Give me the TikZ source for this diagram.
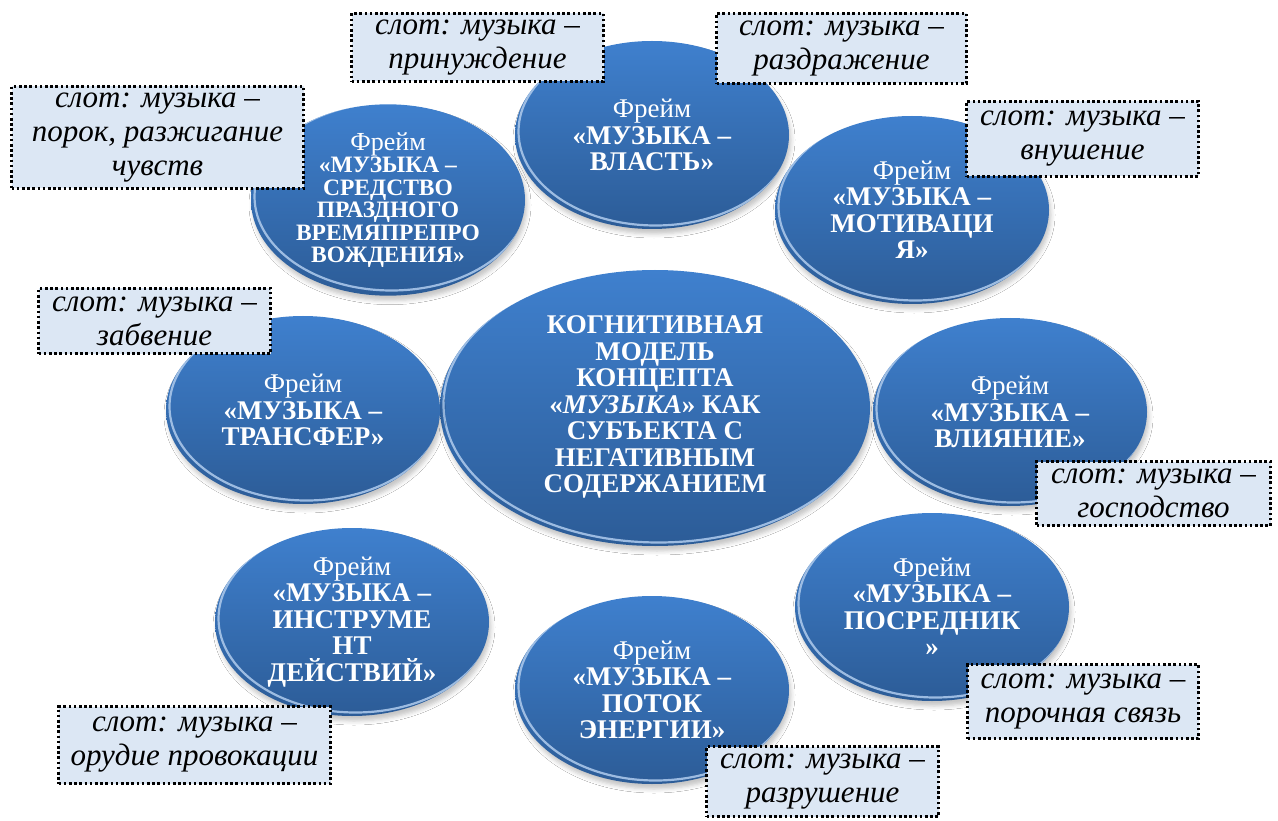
\documentclass[tikz,border=0pt]{standalone}
\usepackage{fontspec}
\setmainfont{Liberation Serif}
\usetikzlibrary{shapes.geometric,shadows.blur}
\pgfdeclarelayer{links}
\pgfsetlayers{links,main}

\definecolor{framehi}{HTML}{3F80CE}
\definecolor{framelo}{HTML}{2C5C97}
\definecolor{linkblue}{HTML}{41689A}
\definecolor{slotfill}{HTML}{DCE7F4}

\tikzset{
  frame/.style={ellipse, inner sep=0pt, align=center, text=white,
    minimum width=274pt, minimum height=188pt,
    top color=framehi, bottom color=framelo, draw=none,
    font=\fontsize{27}{26.5}\selectfont,
    blur shadow={shadow xshift=2pt, shadow yshift=-5pt, shadow opacity=22, shadow blur radius=4pt},
    path picture={
      \draw[line width=2.2pt, color=white!55!framehi, opacity=.9]
        ([xshift=3.5pt,yshift=3.5pt]path picture bounding box.center)
        ellipse [x radius=\pgfkeysvalueof{/pgf/minimum width}/2,
                 y radius=\pgfkeysvalueof{/pgf/minimum height}/2];
    }},
  slot/.style={rectangle, inner sep=0pt, align=center, fill=slotfill,
    draw=black, line width=2.6pt, dash pattern=on 2.6pt off 2.6pt,
    font=\fontsize{31}{34}\selectfont\itshape},
  link/.style={draw=linkblue, line width=4pt},
}

\begin{document}
\begin{tikzpicture}[x=1pt, y=-1pt]
  \fill[white] (0,0) rectangle (1278,821);
  \useasboundingbox (0,0) rectangle (1278,821);

  % central concept
  \node[frame, minimum width=430pt, minimum height=276pt] (core) at (655,408)
    {\raisebox{-5pt}{\begin{tabular}{@{}c@{}}
     \textbf{КОГНИТИВНАЯ}\\\textbf{МОДЕЛЬ}\\\textbf{КОНЦЕПТА}\\
     \textbf{«\textit{МУЗЫКА}» КАК}\\\textbf{СУБЪЕКТА С}\\
     \textbf{НЕГАТИВНЫМ}\\\textbf{СОДЕРЖАНИЕМ}\end{tabular}}};

  % frames around it
  \node[frame] (vlast) at (652,135)
    {Фрейм\\\textbf{«МУЗЫКА –}\\\textbf{ВЛАСТЬ»}};
  \node[frame] (motiv) at (912,210)
    {Фрейм\\\textbf{«МУЗЫКА –}\\\textbf{МОТИВАЦИ}\\\textbf{Я»}};
  \node[frame] (vliyan) at (1010,412)
    {Фрейм\\\textbf{«МУЗЫКА –}\\\textbf{ВЛИЯНИЕ»}};
  \node[frame] (posred) at (932,607)
    {Фрейм\\\textbf{«МУЗЫКА –}\\\textbf{ПОСРЕДНИК}\\\textbf{»}};
  \node[frame] (potok) at (652,690)
    {Фрейм\\\textbf{«МУЗЫКА –}\\\textbf{ПОТОК}\\\textbf{ЭНЕРГИИ»}};
  \node[frame] (instr) at (352,622)
    {Фрейм\\\textbf{«МУЗЫКА –}\\\textbf{ИНСТРУМЕ}\\\textbf{НТ}\\\textbf{ДЕЙСТВИЙ»}};
  \node[frame] (transf) at (303,410)
    {Фрейм\\\textbf{«МУЗЫКА –}\\\textbf{ТРАНСФЕР»}};
  \node[frame, font=\fontsize{23.5}{22.5}\selectfont] (sredst) at (388,200)
    {\fontsize{26}{24}\selectfont Фрейм\\\textbf{«МУЗЫКА –}\\\textbf{СРЕДСТВО}\\
     \textbf{ПРАЗДНОГО}\\\textbf{ВРЕМЯПРЕПРО}\\\textbf{ВОЖДЕНИЯ»}};

  % spokes
  \begin{pgfonlayer}{links}
    \foreach \f in {vlast,motiv,vliyan,posred,potok,instr,transf,sredst}
      \draw[link] (core.center) -- (\f.center);
  \end{pgfonlayer}

  % slots
  \node[slot, minimum width=252pt, minimum height=68pt] (s1) at (477.5,47.5)
    {слот: музыка –\\принуждение};
  \node[slot, minimum width=250pt, minimum height=70pt] (s2) at (841.5,48.5)
    {слот: музыка –\\раздражение};
  \node[slot, minimum width=292pt, minimum height=102pt] (s3) at (157.5,137.5)
    {слот: музыка –\\порок, разжигание\\чувств};
  \node[slot, minimum width=232pt, minimum height=75pt] (s4) at (1082.5,139)
    {слот: музыка –\\внушение};
  \node[slot, minimum width=232pt, minimum height=65pt] (s5) at (154.5,321)
    {слот: музыка –\\забвение};
  \node[slot, minimum width=234pt, minimum height=64pt] (s6) at (1153.5,493.5)
    {слот: музыка –\\господство};
  \node[slot, minimum width=231pt, minimum height=74pt] (s7) at (1083,701.5)
    {слот: музыка –\\порочная связь};
  \node[slot, minimum width=272pt, minimum height=77pt] (s8) at (194.5,745)
    {слот: музыка –\\орудие провокации};
  \node[slot, minimum width=232pt, minimum height=70pt] (s9) at (822.5,781.5)
    {слот: музыка –\\разрушение};
\end{tikzpicture}
\end{document}
